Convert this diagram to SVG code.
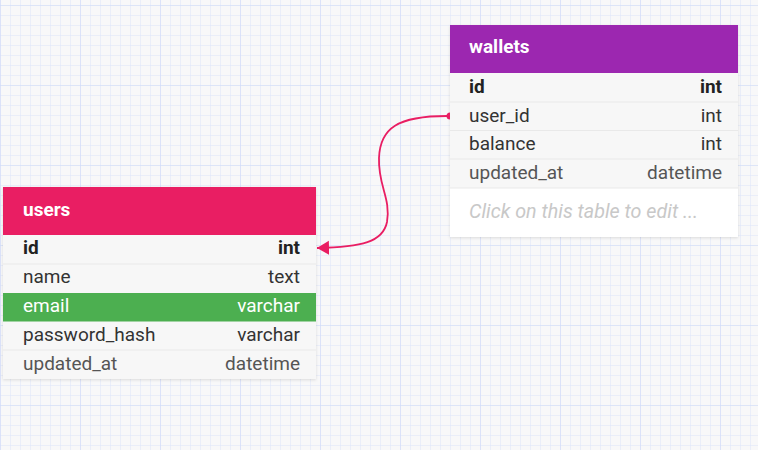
<svg xmlns="http://www.w3.org/2000/svg" width="758" height="450" viewBox="0 0 758 450">
<defs>
<pattern id="g" x="0" y="5" width="10" height="10" patternUnits="userSpaceOnUse">
<path d="M0 0H10M0 0V10" stroke="#dbe4fa" stroke-width="1" fill="none"/>
</pattern>
<pattern id="G" x="0" y="5" width="80" height="80" patternUnits="userSpaceOnUse">
<path d="M0 0H80M0 0V80" stroke="#d0dbf8" stroke-width="1.2" fill="none"/>
</pattern>
<filter id="sh" x="-5%" y="-5%" width="110%" height="115%">
<feDropShadow dx="0" dy="1" stdDeviation="1.5" flood-color="#000" flood-opacity="0.12"/>
</filter>
<marker id="arr" markerWidth="14" markerHeight="16" refX="12" refY="7" orient="auto" markerUnits="userSpaceOnUse">
<path d="M0 0L12 7L0 14Z" fill="#e91e63"/>
</marker>
</defs>
<style>
text{font-family:Roboto,"Liberation Sans",sans-serif;font-size:19px;fill:#333}
.t{font-weight:bold;fill:#fff}
.b{font-weight:bold;fill:#222}
.r{text-anchor:end}
.l{fill:#555}
.w{fill:#fff}
.n{font-style:italic;fill:#c8c8c8;font-size:19.7px}
.sep{stroke:#e9e9e9;stroke-width:1}
</style>
<rect width="758" height="450" fill="#f8f8f9"/>
<rect width="758" height="450" fill="url(#g)"/>
<rect width="758" height="450" fill="url(#G)"/>

<g id="users">
<rect x="3" y="187" width="313" height="192" fill="#f7f7f7" filter="url(#sh)"/>
<rect x="3" y="187" width="313" height="48" fill="#e91e63"/>
<text class="t" x="23" y="216">users</text>
<rect x="3" y="293" width="313" height="28.5" fill="#4caf50"/>
<line class="sep" x1="3" y1="264" x2="316" y2="264"/>
<line class="sep" x1="3" y1="350" x2="316" y2="350"/>
<text class="b" x="23" y="254">id</text><text class="b r" x="300" y="254">int</text>
<text x="23" y="283">name</text><text class="r" x="300" y="283">text</text>
<text class="w" x="23" y="312">email</text><text class="w r" x="300" y="312">varchar</text>
<text x="23" y="340.5">password_hash</text><text class="r" x="300" y="340.5">varchar</text>
<text class="l" x="23" y="369.5">updated_at</text><text class="l r" x="300" y="369.5">datetime</text>
</g>

<g id="wallets">
<rect x="450" y="25" width="288" height="212" fill="#fff" filter="url(#sh)"/>
<rect x="450" y="73" width="288" height="115" fill="#f7f7f7"/>
<rect x="450" y="25" width="288" height="48" fill="#9c27b0"/>
<text class="t" x="469" y="53">wallets</text>
<line class="sep" x1="450" y1="102" x2="738" y2="102"/>
<line class="sep" x1="450" y1="130.5" x2="738" y2="130.5"/>
<line class="sep" x1="450" y1="159" x2="738" y2="159"/>
<line class="sep" x1="450" y1="188" x2="738" y2="188"/>
<text class="b" x="469" y="92.5">id</text><text class="b r" x="722" y="92.5">int</text>
<text x="469" y="121.5">user_id</text><text class="r" x="722" y="121.5">int</text>
<text x="469" y="150">balance</text><text class="r" x="722" y="150">int</text>
<text class="l" x="469" y="179">updated_at</text><text class="l r" x="722" y="179">datetime</text>
<text class="n" x="469" y="218">Click on this table to edit ...</text>
</g>

<g id="connectors">
<path d="M447 116C398 116 380 128 379 158C378 186 391 198 387 222C383 242 362 247 317 248" fill="none" stroke="#e91e63" stroke-width="1.8" marker-end="url(#arr)"/>
<path d="M450 112.5A3.5 3.5 0 0 0 450 119.5Z" fill="#e91e63"/>
</g>
</svg>
